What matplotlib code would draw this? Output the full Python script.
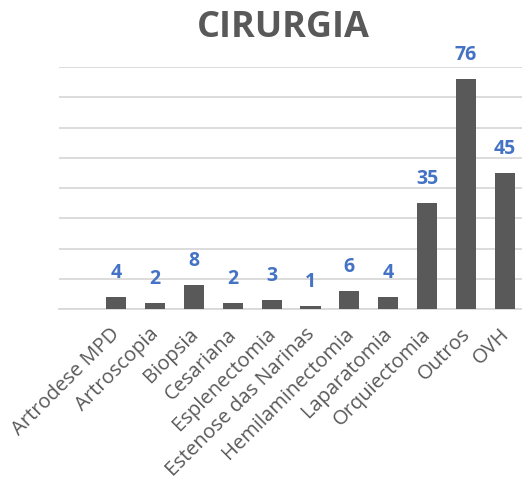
import matplotlib.pyplot as plt
from matplotlib.transforms import ScaledTranslation

categorias = ['Artrodese MPD', 'Artroscopia', 'Biopsia', 'Cesariana', 'Esplenectomia',
              'Estenose das Narinas', 'Hemilaminectomia', 'Laparatomia', 'Orquiectomia',
              'Outros', 'OVH']
valores = [4, 2, 8, 2, 3, 1, 6, 4, 35, 76, 45]

plt.rcParams['font.family'] = ['Open Sans', 'DejaVu Sans']

fig = plt.figure(figsize=(5.22, 4.86), dpi=100)
ax = fig.add_axes([0.113, 0.364, 0.887, 0.498])

x = list(range(len(categorias)))
ax.bar(x, valores, width=0.52, color='#595959', zorder=3)

for xi, v in zip(x, valores):
    ax.annotate(str(v), (xi, v), xytext=(0, 10), textcoords='offset points',
                ha='center', va='bottom', color='#4472C4', fontsize=14, fontweight='bold')

ax.set_xlim(-1.47, 10.44)
ax.set_ylim(0, 80)
ax.set_yticks(range(0, 81, 10))
ax.yaxis.grid(True, color='#D9D9D9', linewidth=1.3, zorder=0)
ax.tick_params(axis='y', left=False, labelleft=False)
ax.tick_params(axis='x', length=0, pad=11)
ax.set_xticks(x)
ax.set_xticklabels(categorias, rotation=45, ha='right', rotation_mode='anchor',
                   color='#595959', fontsize=14.5)
shift = ScaledTranslation(-6 / 100, 0, fig.dpi_scale_trans)
for lbl in ax.get_xticklabels():
    lbl.set_transform(lbl.get_transform() + shift)
for s in ['top', 'right', 'left']:
    ax.spines[s].set_visible(False)
ax.spines['bottom'].set_color('#D9D9D9')
ax.spines['bottom'].set_linewidth(1.3)

fig.text(0.542, 0.942, 'CIRURGIA', ha='center', va='center', fontsize=26,
         fontweight='bold', color='#595959')

fig.savefig('out.png', dpi=100)
